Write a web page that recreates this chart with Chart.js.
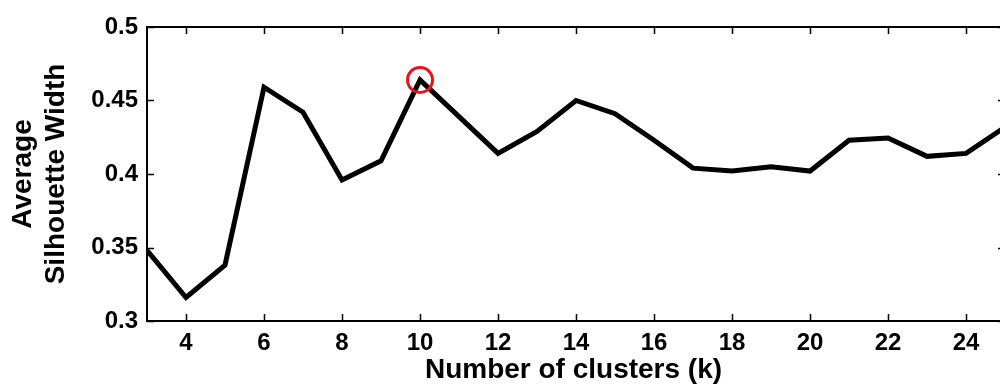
<!DOCTYPE html>
<html>
<head>
<meta charset="utf-8">
<script src="https://cdn.jsdelivr.net/npm/chart.js@4"></script>
<style>
  html, body { margin: 0; padding: 0; background: #fff; overflow: hidden; }
  #c { position: absolute; left: 0; top: 0; }
</style>
</head>
<body>
<canvas id="c" width="1000" height="387" style="width:1000px;height:387px"></canvas>
<script>
// ---- data ----
const kValues = [3,4,5,6,7,8,9,10,11,12,13,14,15,16,17,18,19,20,21,22,23,24,25];
const silhouette = [0.348,0.316,0.338,0.459,0.442,0.396,0.409,0.464,0.439,0.414,0.429,0.450,0.441,0.423,0.404,0.402,0.405,0.402,0.423,0.4245,0.412,0.414,0.432];
const highlightK = [10];
const highlightValue = [0.464];
const xTicks = [4,6,8,10,12,14,16,18,20,22,24];
const yTicks = [0.3,0.35,0.4,0.45,0.5];
const yTickLabels = ['0.3','0.35','0.4','0.45','0.5'];
const xTitle = 'Number of clusters (k)';
const yTitle = ['Average', 'Silhouette Width'];
// axis range (the original frame ends at k = 25, just past the visible image edge)
const xMin = 3, xMax = 25, xVisibleMax = 24.87;

const FONT = "'Liberation Sans', Arial, Helvetica, sans-serif";

const framePlugin = {
  id: 'frame',
  beforeDatasetsDraw(chart) {
    const {ctx, chartArea: a, scales: {x, y}} = chart;
    const rightX = x.getPixelForValue(xMax);
    ctx.save();
    ctx.strokeStyle = '#000';
    ctx.lineWidth = 2;
    ctx.beginPath();
    ctx.moveTo(rightX, a.top); ctx.lineTo(a.left, a.top);
    ctx.lineTo(a.left, a.bottom); ctx.lineTo(rightX, a.bottom);
    ctx.lineTo(rightX, a.top);
    ctx.stroke();
    const tl = 7;
    ctx.lineWidth = 1.5;
    ctx.beginPath();
    x.ticks.forEach(t => {
      const px = Math.round(x.getPixelForValue(t.value)) + 0.5;
      ctx.moveTo(px, a.bottom); ctx.lineTo(px, a.bottom - tl);
      ctx.moveTo(px, a.top); ctx.lineTo(px, a.top + tl);
    });
    y.ticks.forEach(t => {
      const py = Math.round(y.getPixelForValue(t.value)) + 0.5;
      ctx.moveTo(a.left, py); ctx.lineTo(a.left + tl, py);
      ctx.moveTo(rightX, py); ctx.lineTo(rightX - tl, py);
    });
    ctx.stroke();
    ctx.restore();
  }
};

new Chart(document.getElementById('c'), {
  type: 'line',
  data: {
    datasets: [
      {
        data: highlightK.map((k, i) => ({x: k, y: highlightValue[i]})),
        showLine: false,
        pointRadius: 12.5,
        pointHoverRadius: 12.5,
        pointBorderColor: '#e8141b',
        pointBackgroundColor: 'rgba(0,0,0,0)',
        pointBorderWidth: 3,
        order: 0
      },
      {
        data: kValues.map((k, i) => ({x: k, y: silhouette[i]})),
        borderColor: '#000',
        borderWidth: 5,
        borderJoinStyle: 'miter',
        pointRadius: 0,
        tension: 0,
        fill: false,
        order: 1
      }
    ]
  },
  options: {
    responsive: false,
    maintainAspectRatio: false,
    devicePixelRatio: 1,
    animation: false,
    events: [],
    layout: { autoPadding: false, padding: { top: 27, right: 0, left: 0, bottom: 0 } },
    plugins: { legend: { display: false }, tooltip: { enabled: false } },
    scales: {
      x: {
        type: 'linear',
        min: xMin, max: xVisibleMax,
        afterBuildTicks: s => { s.ticks = xTicks.map(v => ({value: v})); },
        afterFit: s => { s.height = 66; s.paddingLeft = 0; s.paddingRight = 0; },
        grid: { display: false, drawTicks: false },
        border: { display: false },
        ticks: { color: '#000', padding: 8, font: { family: FONT, size: 24, weight: 'bold' }, maxRotation: 0 },
        title: { display: true, text: xTitle, color: '#000', padding: { top: 0, bottom: 0 }, font: { family: FONT, size: 28, weight: 'bold' } }
      },
      y: {
        type: 'linear',
        min: 0.3, max: 0.5,
        afterBuildTicks: s => { s.ticks = yTicks.map(v => ({value: v})); },
        afterFit: s => { s.width = 147; s.paddingTop = 0; s.paddingBottom = 0; },
        grid: { display: false, drawTicks: false },
        border: { display: false },
        ticks: {
          color: '#000', padding: 9, font: { family: FONT, size: 24, weight: 'bold' },
          callback: (v) => { const i = yTicks.findIndex(t => Math.abs(t - v) < 1e-9); return i >= 0 ? yTickLabels[i] : ''; }
        },
        title: { display: true, text: yTitle, color: '#000', padding: { top: 6, bottom: 0 }, font: { family: FONT, size: 28, weight: 'bold' } }
      }
    }
  },
  plugins: [framePlugin]
});
</script>
</body>
</html>
